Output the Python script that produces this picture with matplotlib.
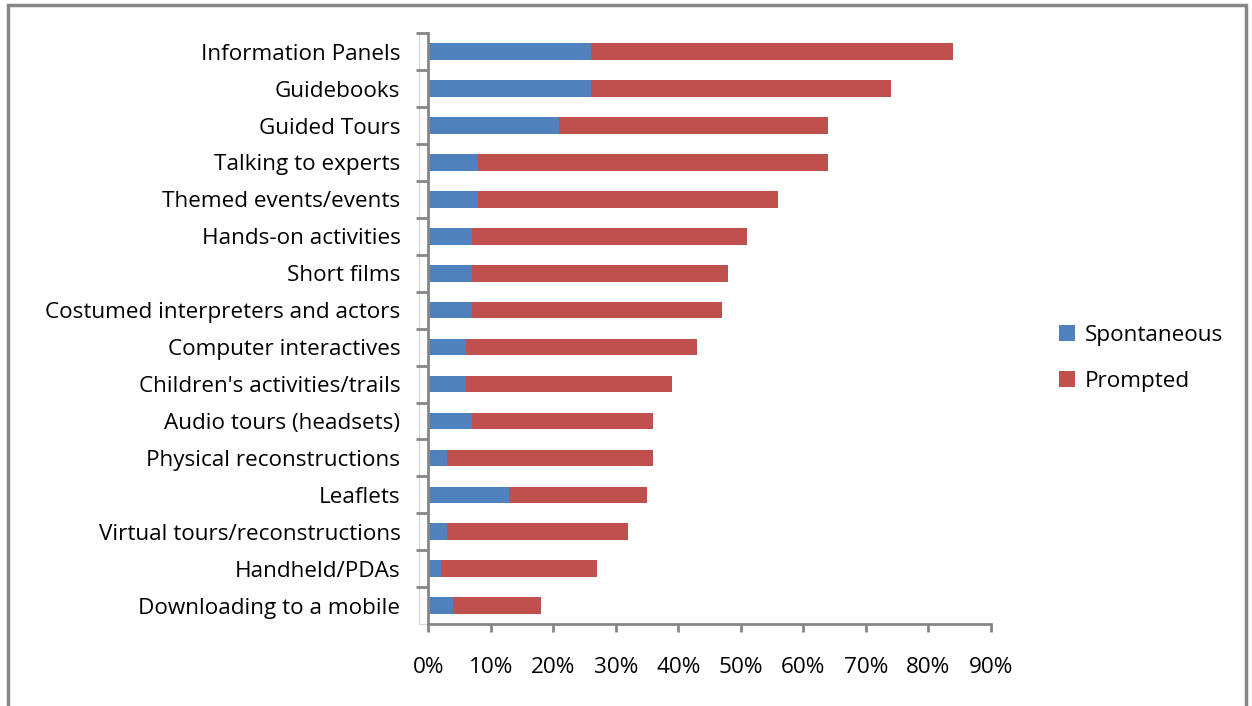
import matplotlib
matplotlib.use("Agg")
import matplotlib.pyplot as plt
from matplotlib.patches import Rectangle
from matplotlib.ticker import PercentFormatter

plt.rcParams["font.family"] = ["Open Sans", "DejaVu Sans"]

categories = [
    "Information Panels", "Guidebooks", "Guided Tours", "Talking to experts",
    "Themed events/events", "Hands-on activities", "Short films",
    "Costumed interpreters and actors", "Computer interactives",
    "Children's activities/trails", "Audio tours (headsets)",
    "Physical reconstructions", "Leaflets", "Virtual tours/reconstructions",
    "Handheld/PDAs", "Downloading to a mobile",
]
spontaneous = [26, 26, 21, 8, 8, 7, 7, 7, 6, 6, 7, 3, 13, 3, 2, 4]
prompted = [58, 48, 43, 56, 48, 44, 41, 40, 37, 33, 29, 33, 22, 29, 25, 14]
xticks = [0, 10, 20, 30, 40, 50, 60, 70, 80, 90]

BLUE = "#4F81BD"
RED = "#C0504D"
GREY = "#868686"
FS = 16.2

fig = plt.figure(figsize=(12.52, 7.06), dpi=100)
ax = fig.add_axes([0.342, 0.116, 0.4495, 0.837])

y = list(range(len(categories)))
ax.barh(y, spontaneous, height=0.45, color=BLUE, label="Spontaneous")
ax.barh(y, prompted, left=spontaneous, height=0.45, color=RED, label="Prompted")

ax.set_ylim(len(categories) - 0.5, -0.5)
ax.set_xlim(0, 90)
ax.set_yticks([i + 0.5 for i in y[:-1]] + [-0.5], minor=False)
ax.set_yticklabels([])
ax.set_yticks(y, minor=True)
ax.set_yticklabels(categories, minor=True, fontsize=FS)
ax.tick_params(axis="y", which="minor", length=0, pad=20)
ax.tick_params(axis="y", which="major", length=9, width=2, color=GREY)

ax.set_xticks(xticks)
ax.xaxis.set_major_formatter(PercentFormatter(decimals=0))
ax.tick_params(axis="x", length=6, width=2, color=GREY, labelsize=FS, pad=18)

for side in ("top", "right"):
    ax.spines[side].set_visible(False)
for side in ("left", "bottom"):
    ax.spines[side].set_color(GREY)
    ax.spines[side].set_linewidth(2)

# thin double line to the left of the value axis
ax.add_patch(Rectangle((-1.5, -0.5), 1.5, len(categories),
                       fill=False, edgecolor="#d4d4d4", linewidth=0.8,
                       clip_on=False, zorder=0))

ax.legend(loc="center left", bbox_to_anchor=(1.085, 0.45), frameon=False,
          fontsize=FS, handlelength=0.7, handleheight=0.7,
          handletextpad=0.45, labelspacing=1.1)

# outer chart border
fig.add_artist(Rectangle((8 / 1252, -0.05), (1246 - 8) / 1252, 1 - 5 / 706 + 0.05,
                         transform=fig.transFigure, fill=False,
                         edgecolor=GREY, linewidth=2.5))

fig.savefig("out.png", dpi=100, facecolor="white")
